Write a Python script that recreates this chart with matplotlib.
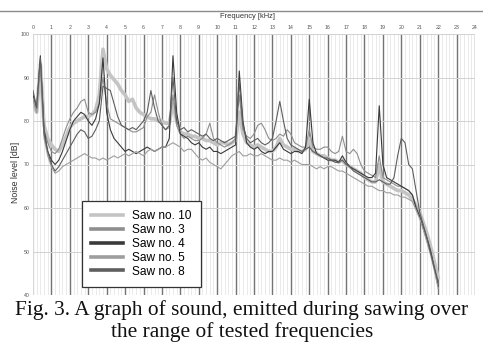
import numpy as np
import matplotlib
matplotlib.use("Agg")
import matplotlib.pyplot as plt
from matplotlib.lines import Line2D
from matplotlib.ticker import MultipleLocator

# ---------------- data ----------------
freq_khz = [round(0.2 * i, 1) for i in range(111)]  # 0.0 ... 22.0 kHz

saw10 = [84, 82, 93, 79, 76,
         74.5, 73.5, 73, 74.5, 76.5,
         78.5, 79.5, 80, 80.5, 81,
         81, 81.5, 82.5, 86, 96.5,
         92, 90.5, 89.5, 88.5, 87,
         86, 84.5, 85, 83, 82,
         81.5, 81, 80.5, 80.5, 80,
         80, 79.5, 79.5, 84, 80,
         77.5, 77, 77, 76.5, 76.5,
         76, 76, 75.5, 75.5, 75,
         74.5, 75, 75, 74.5, 75,
         75.5, 82, 77, 75, 74.5,
         74, 74.5, 74, 73.5, 73,
         73, 74, 76, 74.5, 74,
         73.5, 73.5, 73, 73, 73.5,
         76, 73, 72.5, 72, 72,
         71.5, 71, 71, 70.5, 71,
         70, 69.5, 69, 68.5, 68,
         67, 66.5, 66, 66, 70,
         66, 65.5, 65, 64.5, 64,
         64, 63.5, 63, 62, 60.5,
         59, 56.5, 54, 51, 47.5,
         44]

saw3 = [85, 82, 94, 78, 75,
        73, 72.5, 73.5, 76, 78.5,
        80.5, 82, 83, 84.5, 85,
        82, 81.5, 82, 84, 90,
        84, 80.5, 80, 79.5, 79,
        78.5, 78, 77.5, 77.5, 78,
        78.5, 81, 82, 86, 82,
        79, 78, 78.5, 86, 79,
        77, 76, 76.5, 76, 75.5,
        75.5, 76, 77, 79.5, 76,
        75, 74.5, 74, 74.5, 75,
        76, 86, 78, 76.5, 76,
        77, 79, 79.5, 78, 76,
        75.5, 76, 77, 76.5, 78,
        77, 75, 74.5, 74, 74,
        78, 74, 73.5, 73.5, 74,
        74, 73, 72.5, 73, 76.5,
        73, 72.5, 73.5, 72.5, 70,
        68.5, 68, 67.5, 67, 72,
        67, 66.5, 66, 65.5, 65,
        65, 64.5, 64, 63, 60.5,
        58, 55, 52.5, 49.5, 46.5,
        43]

saw4 = [86, 83, 95, 78, 73,
        71, 70, 71, 73, 75.5,
        78, 80, 81, 82, 81.5,
        80, 79, 80.5, 84, 94.5,
        82, 78, 76, 75, 74,
        73, 73.5, 73, 72.5, 73,
        73.5, 74, 73.5, 73, 73.5,
        74, 74, 76, 95, 82,
        77, 76.5, 76, 75, 74.5,
        75, 74, 73.5, 74, 73,
        73, 72.5, 73, 73.5, 74,
        74.5, 91.5, 80, 75, 74,
        73.5, 74, 73, 72.5, 73,
        73, 74, 75, 73.5, 73,
        72.5, 73, 73, 72.5, 74,
        85, 75, 72.5, 72, 71.5,
        71, 71, 71, 70.5, 72,
        70.5, 69.5, 69, 68.5, 68,
        67.5, 67, 67, 68, 83.5,
        70, 67, 66.5, 66, 65.5,
        65, 64.5, 64, 63, 60,
        58, 55.5, 53, 50, 46,
        42]

saw5 = [85, 82, 93, 76, 72,
        69.5, 68, 68.5, 69.5, 70,
        70.5, 71, 71.5, 72, 72.5,
        72, 71.5, 71.5, 71, 71.5,
        71, 71.5, 72, 71.5, 72,
        72.5, 72, 72.5, 73, 72.5,
        72, 73, 73.5, 73, 73.5,
        74, 74, 74.5, 75, 74.5,
        74, 73, 73.5, 73.5, 72.5,
        71.5, 71, 71.5, 70.5, 70,
        69.5, 69, 70, 71, 72,
        72.5, 73, 72, 72, 72.5,
        72, 72, 72.5, 72, 71.5,
        71, 71, 71.5, 71, 71,
        70.5, 71, 70.5, 70, 70,
        70, 69.5, 69, 69.5, 69,
        69.5, 69.5, 69, 68.5, 68.5,
        68, 67.5, 67, 66.5, 66,
        65.5, 65, 65, 64.5, 64,
        64, 63.5, 63.5, 63, 63,
        62.5, 62.5, 62, 61.5, 59.5,
        57.5, 55, 52, 49, 45.5,
        41.5]

saw8 = [87, 83, 94.5, 77, 73,
        70, 68.5, 69.5, 71, 72.5,
        74, 75.5, 77, 78, 77.5,
        76, 76.5, 78, 80, 88,
        87.5, 87, 84, 81, 79,
        78.5, 78, 78.5, 78, 79,
        80, 82, 87, 83, 80,
        79, 78, 79, 90, 80,
        78, 78.5, 77.5, 78, 77.5,
        77, 76.5, 77, 76, 75.5,
        76, 75.5, 75, 75.5, 76,
        76.5, 89, 79, 76, 75,
        75.5, 76, 75, 74.5, 75,
        76, 80, 84.5, 80, 76,
        74.5, 74, 73.5, 73, 73.5,
        74, 73, 72.5, 72, 71.5,
        71.5, 71, 70.5, 70.5, 71,
        70, 69.5, 68.5, 68, 67.5,
        67, 66.5, 66, 66, 66.5,
        66, 65.5, 65.5, 67, 72,
        76, 75, 70, 69, 64,
        59, 56, 53, 49.5, 46,
        43]

series_names = ["Saw no. 10", "Saw no. 3", "Saw no. 4", "Saw no. 5", "Saw no. 8"]
series_values = [saw10, saw3, saw4, saw5, saw8]
series_colors = ["#c4c4c4", "#8e8e8e", "#3a3a3a", "#9e9e9e", "#5e5e5e"]
series_widths = [2.6, 0.8, 0.8, 0.8, 0.8]

x_ticks = list(range(0, 25))
y_ticks = list(range(40, 101, 10))

SANS = ["Liberation Sans", "DejaVu Sans"]

# ---------------- figure ----------------
W, H = 483, 343
fig = plt.figure(figsize=(W / 100, H / 100), dpi=100)
fig.patch.set_facecolor("white")

left, right, top, bottom = 33, 475, 34, 295
ax = fig.add_axes([left / W, 1 - bottom / H, (right - left) / W, (bottom - top) / H])
ax.set_xlim(0, 24)
ax.set_ylim(40, 100)

ax.xaxis.tick_top()
ax.set_xticks(x_ticks)
ax.set_xticklabels([str(t) for t in x_ticks], family=SANS)
ax.xaxis.set_minor_locator(MultipleLocator(0.2))
ax.set_yticks(y_ticks)
ax.set_yticklabels([str(t) for t in y_ticks], family=SANS)
ax.tick_params(axis="x", which="both", length=0, labelsize=3.8, labelcolor="#555555", pad=3)
ax.tick_params(axis="y", which="both", length=0, labelsize=3.8, labelcolor="#555555", pad=2.5)
for s in ax.spines.values():
    s.set_visible(False)

ax.grid(which="minor", axis="x", color="#e2e2e2", lw=0.5)
ax.grid(which="major", axis="x", color="#747474", lw=1.0)
ax.grid(which="major", axis="y", color="#d2d2d2", lw=0.7)
ax.set_axisbelow(True)
ax.get_xgridlines()[0].set_color("#d8d8d8")

for vals, col, lw in zip(series_values, series_colors, series_widths):
    ax.plot(freq_khz, vals, color=col, lw=lw, solid_joinstyle="round", zorder=3)

handles = [Line2D([], [], color=c, lw=2.6) for c in series_colors]
leg = ax.legend(handles, series_names, loc="upper left",
                bbox_to_anchor=((82 - left) / (right - left), 1 - (201 - top) / (bottom - top)),
                prop={"family": SANS, "size": 8.6}, frameon=True, fancybox=False,
                edgecolor="#333333", framealpha=1, labelspacing=0.16, handlelength=2.7,
                handletextpad=0.75, borderpad=0.75, borderaxespad=0)
leg.get_frame().set_linewidth(0.9)
leg.set_zorder(5)

fig.text(247 / W, 1 - 17 / H, "Frequency [kHz]", ha="center", va="center",
         fontsize=5.4, color="#333333", family=SANS)
fig.text(15 / W, 1 - 172 / H, "Noise level [dB]", ha="center", va="center",
         rotation=90, fontsize=6.3, color="#333333", family=SANS)

fig.add_artist(Line2D([0, 1], [1 - 11 / H, 1 - 11 / H], color="#8a8a8a", lw=1.0))

cap_font = ["Liberation Serif", "DejaVu Serif"]
fig.text(242 / W, 1 - 315.5 / H, "Fig. 3. A graph of sound, emitted during sawing over",
         ha="center", va="baseline", fontsize=15.4, family=cap_font, color="#111111")
fig.text(242 / W, 1 - 337.5 / H, "the range of tested frequencies",
         ha="center", va="baseline", fontsize=15.4, family=cap_font, color="#111111")

fig.savefig("out.png", dpi=100, facecolor="white")
